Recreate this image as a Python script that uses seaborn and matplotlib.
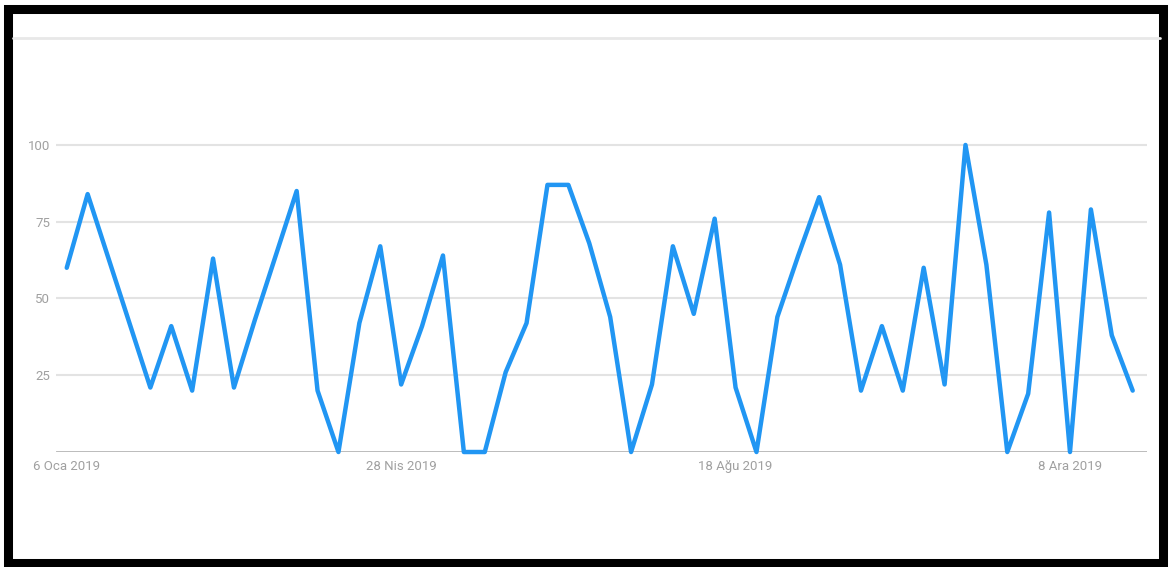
import pandas as pd
import seaborn as sns
import matplotlib.pyplot as plt
from matplotlib.lines import Line2D
from matplotlib.patches import Rectangle

# weekly interest values (Google Trends style), 6 Jan 2019 - 29 Dec 2019
start_week = "2019-01-06"
values = [
    60, 84, 63, 42, 21, 41, 20, 63, 21, 43,
    64, 85, 20, 0, 42, 67, 22, 41, 64, 0,
    0, 26, 42, 87, 87, 68, 44, 0, 22, 67,
    45, 76, 21, 0, 44, 64, 83, 61, 20, 41,
    20, 60, 22, 100, 61, 0, 19, 78, 0, 79,
    38, 20,
]
y_ticks = [25, 50, 75, 100]
x_tick_dates = ["2019-01-06", "2019-04-28", "2019-08-18", "2019-12-08"]
x_tick_labels = ["6 Oca 2019", "28 Nis 2019", "18 Ağu 2019", "8 Ara 2019"]

df = pd.DataFrame({
    "week": pd.date_range(start_week, periods=len(values), freq="7D"),
    "value": values,
})

sns.set_style("white")
plt.rcParams["font.family"] = ["Roboto", "DejaVu Sans"]

fig = plt.figure(figsize=(11.69, 5.67), dpi=100)
ax = fig.add_axes([0.0479, 0.2028, 0.9333, 0.5686])

for y in y_ticks:
    ax.axhline(y, color="#e3e3e3", lw=1.5, zorder=0)
ax.axhline(0, color="#a8a8a8", lw=1.8, zorder=1)

sns.lineplot(data=df, x="week", y="value", ax=ax, color="#2196f3",
             lw=3.2, clip_on=False, zorder=3)

ax.set_ylim(0, 105)
ax.set_xlim(df["week"].iloc[0] - pd.Timedelta(days=3.6),
            df["week"].iloc[-1] + pd.Timedelta(days=4.8))
ax.set_yticks(y_ticks)
ax.set_yticklabels([str(v) for v in y_ticks])
ax.set_xticks(pd.to_datetime(x_tick_dates))
ax.set_xticklabels(x_tick_labels)
ax.tick_params(axis="both", length=0, labelsize=9.5, labelcolor="#a0a0a0")
ax.tick_params(axis="y", pad=4)
ax.tick_params(axis="x", pad=6)
ax.set_xlabel("")
ax.set_ylabel("")
for s in ax.spines.values():
    s.set_visible(False)

# light separator line near the top
fig.add_artist(Line2D([13 / 1169, 1160 / 1169], [1 - 38 / 567, 1 - 38 / 567],
                      color="#e8e8e8", lw=2))
# black outer frame
fig.add_artist(Rectangle((7.5 / 1169, 4.0 / 567), 1155.5 / 1169, 554.5 / 567,
                         fill=False, ec="black", lw=6.5))

fig.savefig("out.png", dpi=100)
